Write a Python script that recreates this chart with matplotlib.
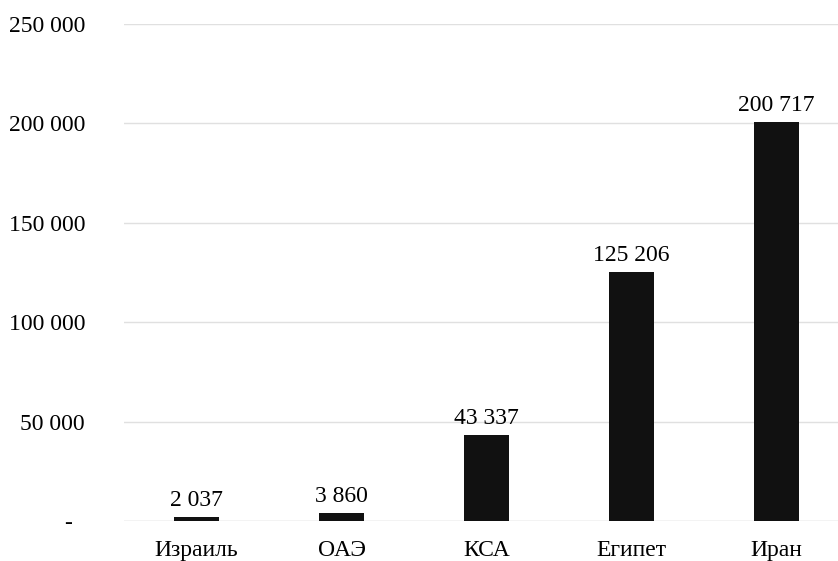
import matplotlib.pyplot as plt

plt.rcParams['font.family'] = ['Liberation Serif', 'DejaVu Serif']

countries = ['Израиль', 'ОАЭ', 'КСА', 'Египет', 'Иран']
values = [2037, 3860, 43337, 125206, 200717]
yticks = [0, 50000, 100000, 150000, 200000, 250000]


def fmt(v):
    if v == 0:
        return '-  '
    return f'{v:,}'.replace(',', ' ')


fig = plt.figure(figsize=(8.38, 5.61), dpi=100)
ax = fig.add_axes([124 / 838, 40 / 561, 714 / 838, 497 / 561])

x = range(len(countries))
bars = ax.bar(x, values, width=0.31, color='#111111', zorder=3)

for b, v in zip(bars, values):
    ax.annotate(fmt(v), (b.get_x() + b.get_width() / 2, v),
                xytext=(0, 4.5), textcoords='offset points',
                ha='center', va='bottom', fontsize=17)

ax.set_xlim(-0.5, 714 / 145 - 0.5)
ax.set_ylim(0, 250000)
ax.set_yticks(yticks)
ax.set_yticklabels([fmt(t) for t in yticks])
ax.set_xticks(list(x))
ax.set_xticklabels(countries)

ax.grid(axis='y', color='#e0e0e0', linewidth=1, zorder=0)
ax.tick_params(axis='y', length=0, pad=28, labelsize=17)
ax.tick_params(axis='x', length=0, pad=14, labelsize=17)
for s in ax.spines.values():
    s.set_visible(False)
ax.axhline(0, color='#e0e0e0', linewidth=1, zorder=1)

fig.savefig('out.png', dpi=100)
